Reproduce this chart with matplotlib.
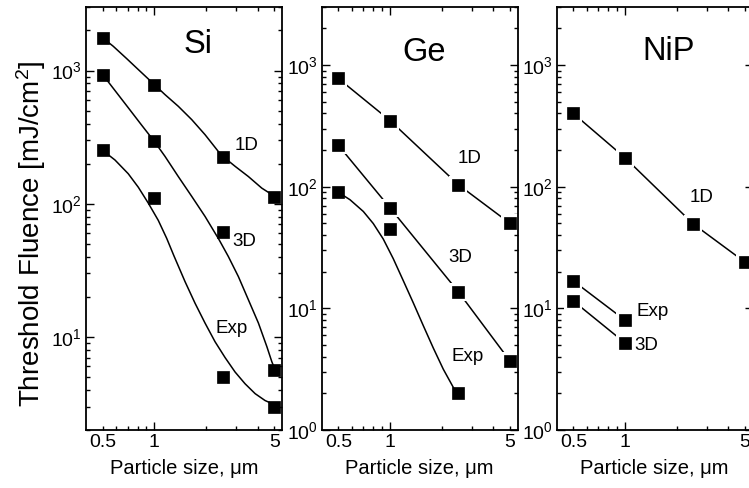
import matplotlib
matplotlib.use("Agg")
import matplotlib.pyplot as plt

plt.rcParams['font.family'] = ['Liberation Sans', 'DejaVu Sans']
plt.rcParams['mathtext.default'] = 'regular'

# particle sizes (um)
sizes = [0.5, 1, 2.5, 5]

# Si measured / simulated thresholds (mJ/cm2)
si_1d = [1760, 785, 226, 113]
si_3d = [933, 294, 61, 5.6]
si_exp = [251, 110, 5.0, 3.0]

# Si fitted curves
si_1d_fit_x = [0.5, 0.576, 0.69, 0.807, 1.0, 1.154, 1.38, 1.653, 1.976, 2.36, 2.506, 2.957, 3.535, 4.23, 5.06]
si_1d_fit_y = [1762, 1523, 1230, 1017, 785, 660, 539, 428, 330, 247, 227, 191, 160, 131, 113]
si_3d_fit_x = [0.5, 0.59, 0.705, 0.844, 1.0, 1.154, 1.38, 1.653, 1.976, 2.385, 2.7, 3.09, 3.535, 4.045, 4.53, 4.84, 5.06]
si_3d_fit_y = [933, 708, 526, 389, 294, 227, 160, 113.5, 80.3, 53.7, 40.2, 28.4, 19.0, 12.7, 8.45, 6.52, 5.65]
si_exp_fit_x = [0.5, 0.59, 0.705, 0.807, 0.923, 1.055, 1.181, 1.303, 1.511, 1.728, 1.976, 2.26, 2.585, 2.957, 3.38, 3.87, 4.42, 5.06]
si_exp_fit_y = [251.6, 213, 168, 133, 101, 75, 55, 40.5, 26.0, 17.9, 12.7, 9.2, 7.0, 5.45, 4.45, 3.75, 3.33, 3.08]

# Ge
ge_1d = [776, 350, 104, 50]
ge_3d = [219, 67, 13.7, 3.7]
ge_exp = [90, 45, 2.0]
ge_exp_fit_x = [0.5, 0.585, 0.699, 0.799, 0.914, 1.045, 1.195, 1.367, 1.564, 1.788, 2.045, 2.39, 2.5]
ge_exp_fit_y = [90, 78.1, 62.6, 49.8, 37.1, 25.6, 16.9, 11.1, 7.2, 4.72, 3.16, 2.12, 2.0]

# NiP
nip_1d = [400, 173, 49.4, 24]
nip_exp = [16.8, 8.0]
nip_3d = [11.5, 5.2]

fig = plt.figure(figsize=(7.49, 4.88), dpi=100)

W, H = 749.0, 488.0
lefts = [86, 321.7, 556.7]
axes = [fig.add_axes([l / W, 58 / H, 196 / W, 423 / H]) for l in lefts]

ms = 8


def gapped(ax, x, y):
    # line with a small gap around each marker
    ax.plot(x, y, color='black', lw=1.1, zorder=2)
    ax.plot(x, y, 's', color='white', ms=13.5, mew=0, zorder=2.1)
    ax.plot(x, y, 's', color='black', ms=ms, mew=0.5, zorder=2.2)


def fitted(ax, xf, yf, x, y):
    ax.plot(xf, yf, color='black', lw=1.1, zorder=2)
    ax.plot(x, y, 's', color='black', ms=ms, mew=0.5, zorder=2.2)


for ax in axes:
    ax.set_xscale('log')
    ax.set_yscale('log')
    ax.set_xlim(0.4, 5.55)
    ax.set_xticks([1], ['1'])
    ax.set_xticks([0.5, 0.6, 0.7, 0.8, 0.9, 2, 3, 4, 5],
                  ['0.5', '', '', '', '', '', '', '', '5'], minor=True)
    ax.tick_params(which='both', direction='in', top=True, right=True,
                   labelsize=14, width=1, pad=3)
    ax.tick_params(which='major', length=5.5)
    ax.tick_params(which='minor', length=3)
    for s in ax.spines.values():
        s.set_linewidth(1.3)
    ax.set_xlabel('Particle size, \u03bcm', fontsize=14.5, labelpad=6)

# Si
ax = axes[0]
ax.set_ylim(2, 3000)
fitted(ax, si_1d_fit_x, si_1d_fit_y, sizes, si_1d)
fitted(ax, si_3d_fit_x, si_3d_fit_y, sizes, si_3d)
fitted(ax, si_exp_fit_x, si_exp_fit_y, sizes, si_exp)
ax.text(0.573, 0.8905, 'Si', transform=ax.transAxes, ha='center', va='baseline', fontsize=23.5)
ax.text(0.759, 0.662, '1D', transform=ax.transAxes, va='baseline', fontsize=13.5)
ax.text(0.745, 0.436, '3D', transform=ax.transAxes, va='baseline', fontsize=13.5)
ax.text(0.662, 0.2286, 'Exp', transform=ax.transAxes, va='baseline', fontsize=13.5)

# Ge
ax = axes[1]
ax.set_ylim(1, 3000)
gapped(ax, sizes, ge_1d)
gapped(ax, sizes, ge_3d)
fitted(ax, ge_exp_fit_x, ge_exp_fit_y, sizes[:3], ge_exp)
ax.text(0.521, 0.873, 'Ge', transform=ax.transAxes, ha='center', va='baseline', fontsize=23.5)
ax.text(0.692, 0.6305, '1D', transform=ax.transAxes, va='baseline', fontsize=13.5)
ax.text(0.647, 0.398, '3D', transform=ax.transAxes, va='baseline', fontsize=13.5)
ax.text(0.663, 0.164, 'Exp', transform=ax.transAxes, va='baseline', fontsize=13.5)

# NiP
ax = axes[2]
ax.set_ylim(1, 3000)
gapped(ax, sizes, nip_1d)
gapped(ax, sizes[:2], nip_exp)
gapped(ax, sizes[:2], nip_3d)
ax.text(0.569, 0.875, 'NiP', transform=ax.transAxes, ha='center', va='baseline', fontsize=23.5)
ax.text(0.679, 0.540, '1D', transform=ax.transAxes, va='baseline', fontsize=13.5)
ax.text(0.406, 0.2695, 'Exp', transform=ax.transAxes, va='baseline', fontsize=13.5)
ax.text(0.394, 0.189, '3D', transform=ax.transAxes, va='baseline', fontsize=13.5)

fig.text(31 / W, 1 - 234 / H, 'Threshold Fluence [mJ/cm$^2$]', rotation=90,
         ha='center', va='center', fontsize=20)

fig.savefig('out.png', dpi=100)
